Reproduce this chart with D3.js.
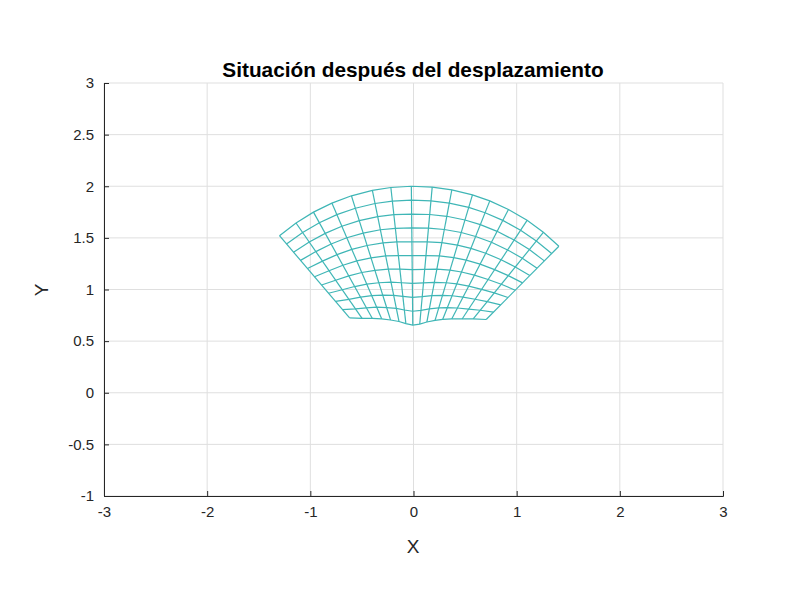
<!DOCTYPE html>
<html><head><meta charset="utf-8">
<script src="https://cdn.jsdelivr.net/npm/d3@7"></script>
<style>body{margin:0;background:#fff}</style></head>
<body><svg id="c" width="800" height="600"></svg>
<script>
const xTicks=[-3,-2,-1,0,1,2,3];
const yTicks=[-1,-0.5,0,0.5,1,1.5,2,2.5,3];
const anglesDeg=[130.5,124.7,119,113.3,107.5,101.5,96.3,90.6,84.8,79.3,73.4,68.3,62.6,56.6,51,45.2];
const innerR=[0.954,0.876,0.823,0.780,0.739,0.704,0.674,0.655,0.668,0.697,0.731,0.764,0.805,0.856,0.920,1.0];
const outerR=2;
const radialFractions=[0,0.1,0.2,0.3,0.4,0.5,0.6,0.7,0.8,0.9,1];

const svg=d3.select("#c");
svg.append("rect").attr("width",800).attr("height",600).attr("fill","#fff");
const L=104,R=723,T=83,B=496;
const x=d3.scaleLinear().domain([-3,3]).range([L,R]);
const y=d3.scaleLinear().domain([-1,3]).range([B,T]);
const g=svg.append("g");
g.selectAll(".gx").data(xTicks).enter().append("line").attr("x1",d=>x(d)).attr("x2",d=>x(d)).attr("y1",T).attr("y2",B).attr("stroke","#dfdfdf");
g.selectAll(".gy").data(yTicks).enter().append("line").attr("y1",d=>y(d)).attr("y2",d=>y(d)).attr("x1",L).attr("x2",R).attr("stroke","#dfdfdf");

const pt=(i,f)=>{const th=anglesDeg[i]*Math.PI/180;const r=innerR[i]+f*(outerR-innerR[i]);return [x(r*Math.cos(th)),y(r*Math.sin(th))];};
const line=d3.line();
const col="#3fb6b6";
anglesDeg.forEach((a,i)=>{g.append("path").attr("d",line([pt(i,0),pt(i,1)])).attr("fill","none").attr("stroke",col).attr("stroke-width",1.2);});
radialFractions.forEach(f=>{g.append("path").attr("d",line(anglesDeg.map((a,i)=>pt(i,f)))).attr("fill","none").attr("stroke",col).attr("stroke-width",1.2);});

const fmt=d=>String(d);
const xa=svg.append("g").attr("transform",`translate(0,${B})`).call(d3.axisBottom(x).tickValues(xTicks).tickSize(-5).tickPadding(10).tickFormat(fmt));
const ya=svg.append("g").attr("transform",`translate(${L},0)`).call(d3.axisLeft(y).tickValues(yTicks).tickSize(-5).tickPadding(10).tickFormat(fmt));
[xa,ya].forEach(a=>{a.selectAll("text").attr("font-family","Liberation Sans, Arial").attr("font-size",15).attr("fill","#262626");a.selectAll("line,path").attr("stroke","#262626");});
const tf="Liberation Sans, Arial";
svg.append("text").attr("x",413).attr("y",77).attr("text-anchor","middle").attr("font-family",tf).attr("font-weight","bold").attr("font-size",20.8).attr("fill","#000").text("Situación después del desplazamiento");
svg.append("text").attr("x",413).attr("y",553).attr("text-anchor","middle").attr("font-family",tf).attr("font-size",19).attr("fill","#262626").text("X");
svg.append("text").attr("transform","translate(48,290) rotate(-90)").attr("text-anchor","middle").attr("font-family",tf).attr("font-size",19).attr("fill","#262626").text("Y");
</script></body></html>
